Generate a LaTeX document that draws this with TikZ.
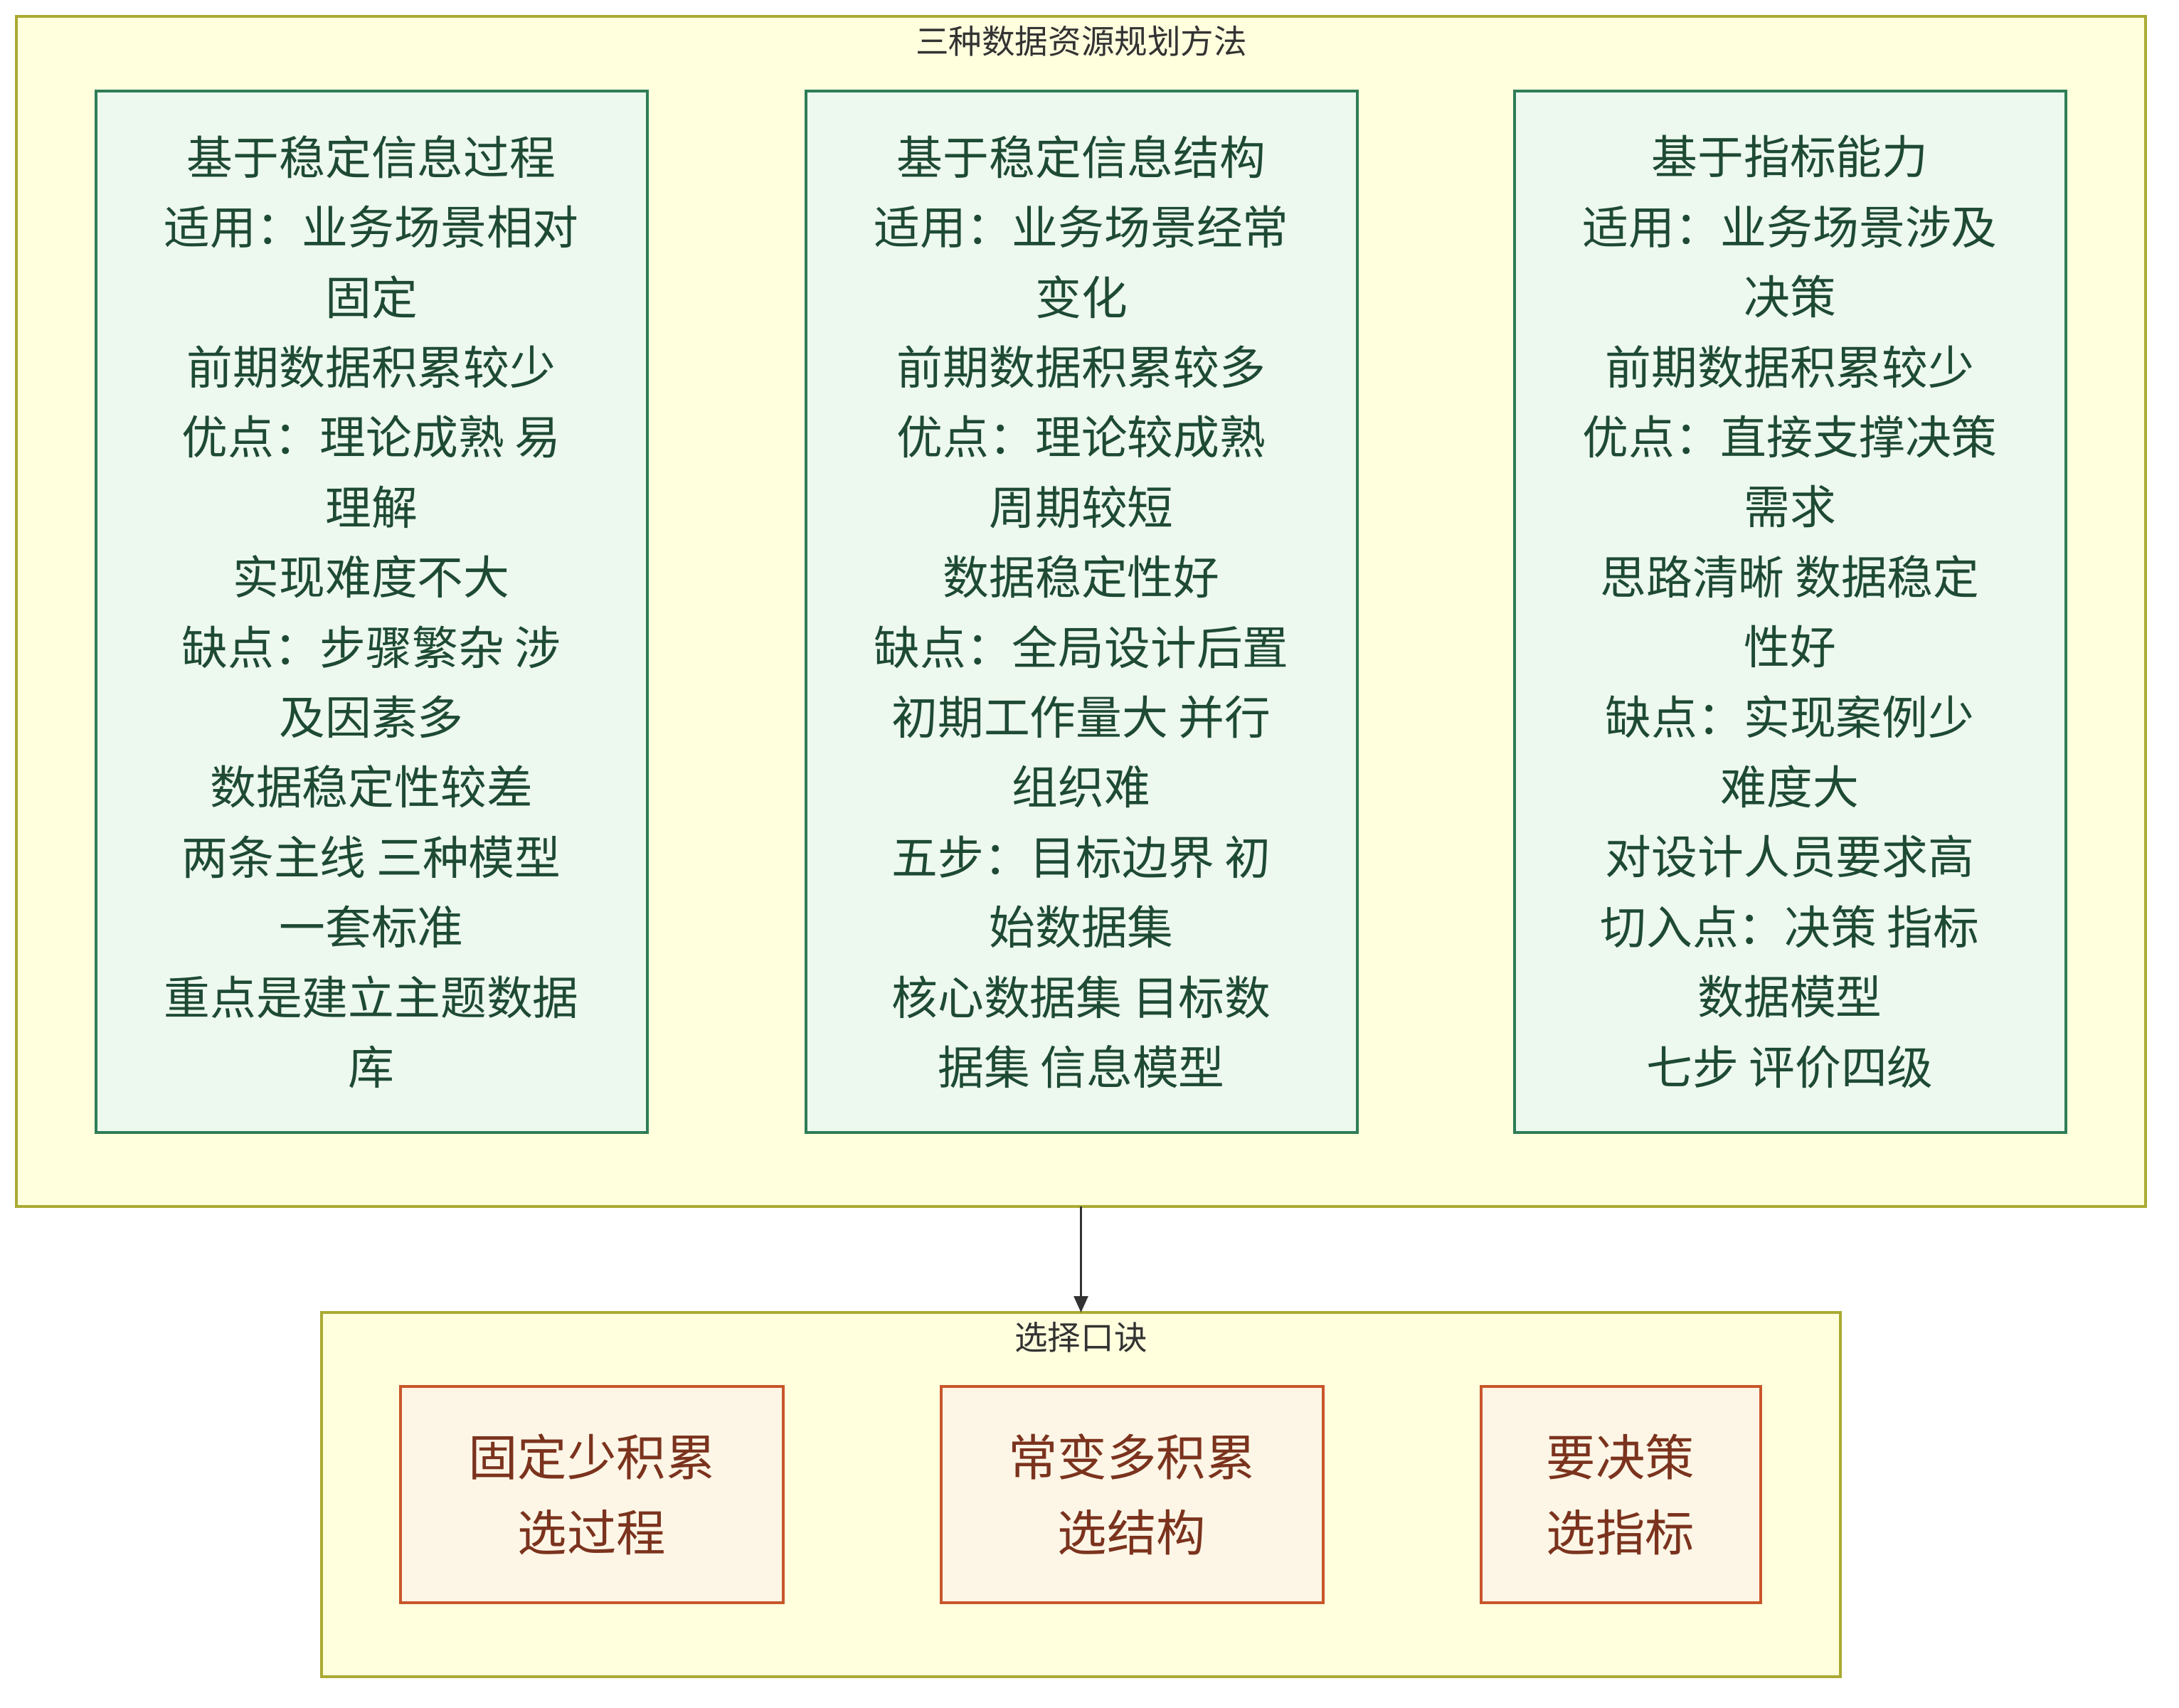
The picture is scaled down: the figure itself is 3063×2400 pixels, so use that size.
\documentclass[tikz,border=0pt]{standalone}
\usepackage{fontspec}
\setmainfont{Noto Sans CJK SC}
\usetikzlibrary{arrows.meta}
\definecolor{clfill}{HTML}{FFFFDE}
\definecolor{clline}{HTML}{AAAA33}
\definecolor{gfill}{HTML}{EDF8EE}
\definecolor{gline}{HTML}{2E7D57}
\definecolor{gtext}{HTML}{1E4A33}
\definecolor{ofill}{HTML}{FDF6E6}
\definecolor{oline}{HTML}{C8562A}
\definecolor{otext}{HTML}{7B331E}
\definecolor{dark}{HTML}{333333}
\tikzset{
  cluster/.style={draw=clline, fill=clfill, line width=1pt, inner sep=0pt, outer sep=0pt},
  cltitle/.style={text=dark, inner sep=0pt, font=\fontsize{11.65}{14}\selectfont},
  method/.style={draw=gline, fill=gfill, line width=1pt, inner sep=0pt, outer sep=0pt,
    align=center, text=gtext, font=\fontsize{16.2}{24.6}\selectfont,
    minimum width=775*0.25pt, minimum height=1464*0.25pt},
  rule/.style={draw=oline, fill=ofill, line width=1pt, inner sep=0pt, outer sep=0pt,
    align=center, text=otext, font=\fontsize{17.35}{26.5}\selectfont,
    minimum height=304*0.25pt},
  link/.style={draw=dark, line width=0.6pt, -{Triangle[length=5.75pt,width=5pt]}}
}
\begin{document}
\begin{tikzpicture}[x=0.25pt,y=-0.25pt]
\useasboundingbox (0,0) rectangle (3063,2400);
% top cluster
\node[cluster, minimum width=2993*0.25pt, minimum height=1673*0.25pt] (c1) at (1519.5,859.5) {};
\node[cltitle] (t1) at (1520,58) {三种数据资源规划方法};
\node[method] (ma) at (522,860) {基于稳定信息过程\\适用：业务场景相对\\固定\\前期数据积累较少\\优点：理论成熟 易\\理解\\实现难度不大\\缺点：步骤繁杂 涉\\及因素多\\数据稳定性较差\\两条主线 三种模型\\一套标准\\重点是建立主题数据\\库};
\node[method] (mb) at (1520,860) {基于稳定信息结构\\适用：业务场景经常\\变化\\前期数据积累较多\\优点：理论较成熟\\周期较短\\数据稳定性好\\缺点：全局设计后置\\初期工作量大 并行\\组织难\\五步：目标边界 初\\始数据集\\核心数据集 目标数\\据集 信息模型};
\node[method] (mc) at (2516,860) {基于指标能力\\适用：业务场景涉及\\决策\\前期数据积累较少\\优点：直接支撑决策\\需求\\思路清晰 数据稳定\\性好\\缺点：实现案例少\\难度大\\对设计人员要求高\\切入点：决策 指标\\数据模型\\七步 评价四级};
% bottom cluster
\node[cluster, minimum width=2135*0.25pt, minimum height=512*0.25pt] (c2) at (1519.5,2101) {};
\node[cltitle] (t2) at (1519.5,1880) {选择口诀};
\node[rule, minimum width=538*0.25pt] (ra) at (832,2101) {固定少积累\\选过程};
\node[rule, minimum width=537*0.25pt] (rb) at (1591,2101) {常变多积累\\选结构};
\node[rule, minimum width=393*0.25pt] (rc) at (2278,2101) {要决策\\选指标};
\draw[link] (c1.south) -- (c2.north);
\end{tikzpicture}
\end{document}
